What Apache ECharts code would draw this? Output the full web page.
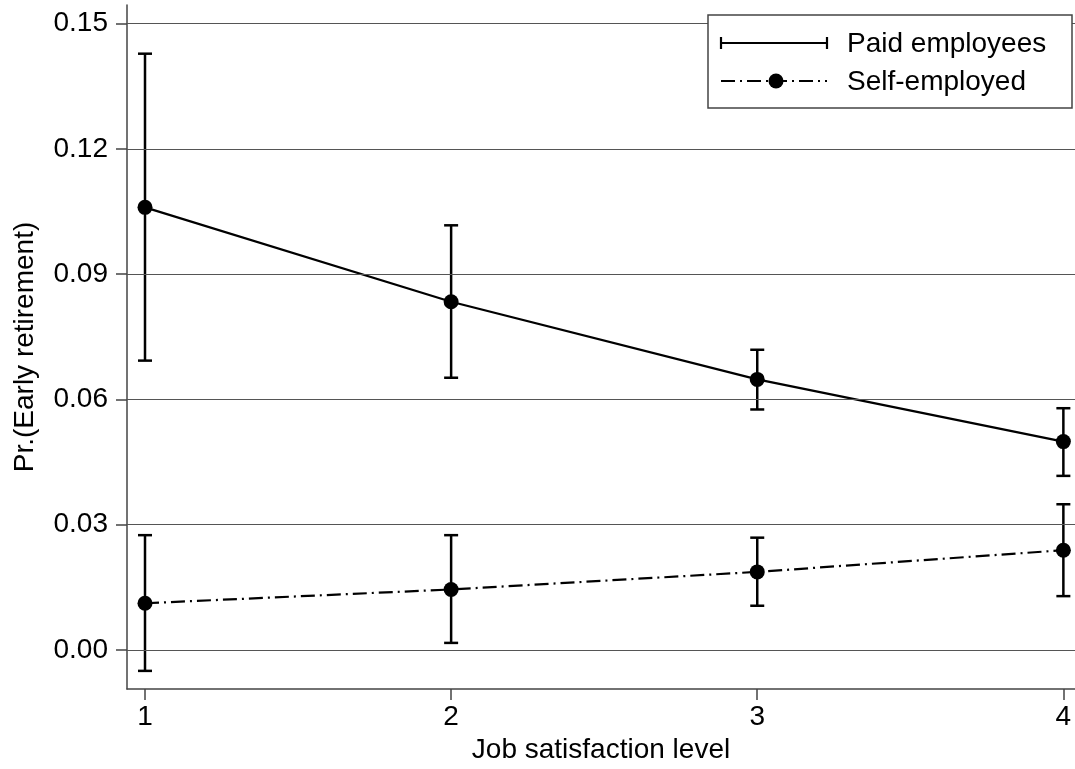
<!DOCTYPE html>
<html>
<head>
<meta charset="utf-8">
<script src="https://cdn.jsdelivr.net/npm/echarts@6/dist/echarts.min.js"></script>
<style>html,body{margin:0;padding:0;background:#fff}#c{width:1075px;height:769px}</style>
</head>
<body>
<div id="c"></div>
<script>
const levels = [1, 2, 3, 4];
const paidMean = [0.1060, 0.0834, 0.0648, 0.0499];
const paidLow  = [0.0693, 0.0652, 0.0576, 0.0417];
const paidHigh = [0.1428, 0.1017, 0.0719, 0.0579];
const selfMean = [0.0112, 0.0145, 0.0187, 0.0239];
const selfLow  = [-0.0050, 0.0017, 0.0106, 0.0129];
const selfHigh = [0.0275, 0.0275, 0.0269, 0.0349];
const yTicks = [0.00, 0.03, 0.06, 0.09, 0.12, 0.15];
const xTicks = [1, 2, 3, 4];

const FONT = 'Liberation Sans, Arial, Helvetica, sans-serif';
const chart = echarts.init(document.getElementById('c'));

function errData(low, high) {
  return levels.map((x, i) => [x, low[i], high[i]]);
}
function renderErr(params, api) {
  const x = api.value(0);
  const lo = api.coord([x, api.value(1)]);
  const hi = api.coord([x, api.value(2)]);
  const hw = 7;
  const st = {stroke: '#000', lineWidth: 2.5};
  return {
    type: 'group',
    children: [
      {type: 'line', shape: {x1: lo[0], y1: lo[1], x2: hi[0], y2: hi[1]}, style: st},
      {type: 'line', shape: {x1: lo[0] - hw, y1: lo[1], x2: lo[0] + hw, y2: lo[1]}, style: st},
      {type: 'line', shape: {x1: hi[0] - hw, y1: hi[1], x2: hi[0] + hw, y2: hi[1]}, style: st}
    ]
  };
}

chart.setOption({
  animation: false,
  backgroundColor: '#fff',
  grid: {left: 127, right: 0, top: 5, bottom: 80, containLabel: false},
  xAxis: {
    type: 'value', min: 0.9412, max: 4.038,
    name: 'Job satisfaction level', nameLocation: 'middle', nameGap: 46,
    nameTextStyle: {fontFamily: FONT, fontSize: 28, color: '#000'},
    axisLine: {show: true, onZero: false, lineStyle: {color: '#444', width: 1.5}},
    axisTick: {show: true, length: 11, customValues: xTicks, lineStyle: {color: '#444', width: 1.5}},
    axisLabel: {customValues: xTicks, fontFamily: FONT, fontSize: 28, color: '#000', margin: 14},
    splitLine: {show: false}
  },
  yAxis: {
    type: 'value', min: -0.00934, max: 0.15446,
    name: 'Pr.(Early retirement)', nameLocation: 'middle', nameGap: 88, nameRotate: 90,
    nameTextStyle: {fontFamily: FONT, fontSize: 28, color: '#000'},
    axisLine: {show: true, onZero: false, lineStyle: {color: '#444', width: 1.5}},
    axisTick: {show: true, length: 11, customValues: yTicks, lineStyle: {color: '#444', width: 1.5}},
    axisLabel: {customValues: yTicks, fontFamily: FONT, fontSize: 28, color: '#000', margin: 19,
      formatter: v => v.toFixed(2)},
    splitLine: {show: false}
  },
  series: [
    {
      type: 'line', data: [], z: 1, silent: true,
      markLine: {
        silent: true, symbol: ['none', 'none'], label: {show: false},
        lineStyle: {color: '#555', width: 1.2, type: 'solid'},
        emphasis: {disabled: true},
        data: yTicks.map(v => ({yAxis: v}))
      }
    },
    {type: 'custom', name: 'paidErr', renderItem: renderErr, data: errData(paidLow, paidHigh), z: 2, silent: true},
    {type: 'custom', name: 'selfErr', renderItem: renderErr, data: errData(selfLow, selfHigh), z: 2, silent: true},
    {
      type: 'line', name: 'Paid employees', z: 3,
      data: levels.map((x, i) => [x, paidMean[i]]),
      symbol: 'circle', symbolSize: 15, showSymbol: true,
      itemStyle: {color: '#000'},
      lineStyle: {color: '#000', width: 2.2, type: 'solid'}
    },
    {
      type: 'line', name: 'Self-employed', z: 3,
      data: levels.map((x, i) => [x, selfMean[i]]),
      symbol: 'circle', symbolSize: 15, showSymbol: true,
      itemStyle: {color: '#000'},
      lineStyle: {color: '#000', width: 2.2, type: [14, 5, 2, 5]}
    }
  ],
  graphic: [
    {type: 'rect', z: 10, shape: {x: 708, y: 15, width: 364, height: 93},
      style: {fill: '#fff', stroke: '#444', lineWidth: 1.5}},
    {type: 'line', z: 11, shape: {x1: 721, y1: 43, x2: 827, y2: 43}, style: {stroke: '#000', lineWidth: 2.2}},
    {type: 'line', z: 11, shape: {x1: 721, y1: 37, x2: 721, y2: 49}, style: {stroke: '#000', lineWidth: 2.2}},
    {type: 'line', z: 11, shape: {x1: 827, y1: 37, x2: 827, y2: 49}, style: {stroke: '#000', lineWidth: 2.2}},
    {type: 'text', z: 11, style: {x: 847, y: 44, text: 'Paid employees', font: '28px ' + FONT, fill: '#000', verticalAlign: 'middle', textAlign: 'left'}},
    {type: 'line', z: 11, shape: {x1: 721, y1: 81, x2: 827, y2: 81}, style: {stroke: '#000', lineWidth: 2.2, lineDash: [14, 5, 2, 5]}},
    {type: 'circle', z: 12, shape: {cx: 776, cy: 81, r: 7.5}, style: {fill: '#000'}},
    {type: 'text', z: 11, style: {x: 847, y: 82, text: 'Self-employed', font: '28px ' + FONT, fill: '#000', verticalAlign: 'middle', textAlign: 'left'}}
  ]
});
</script>
</body>
</html>
